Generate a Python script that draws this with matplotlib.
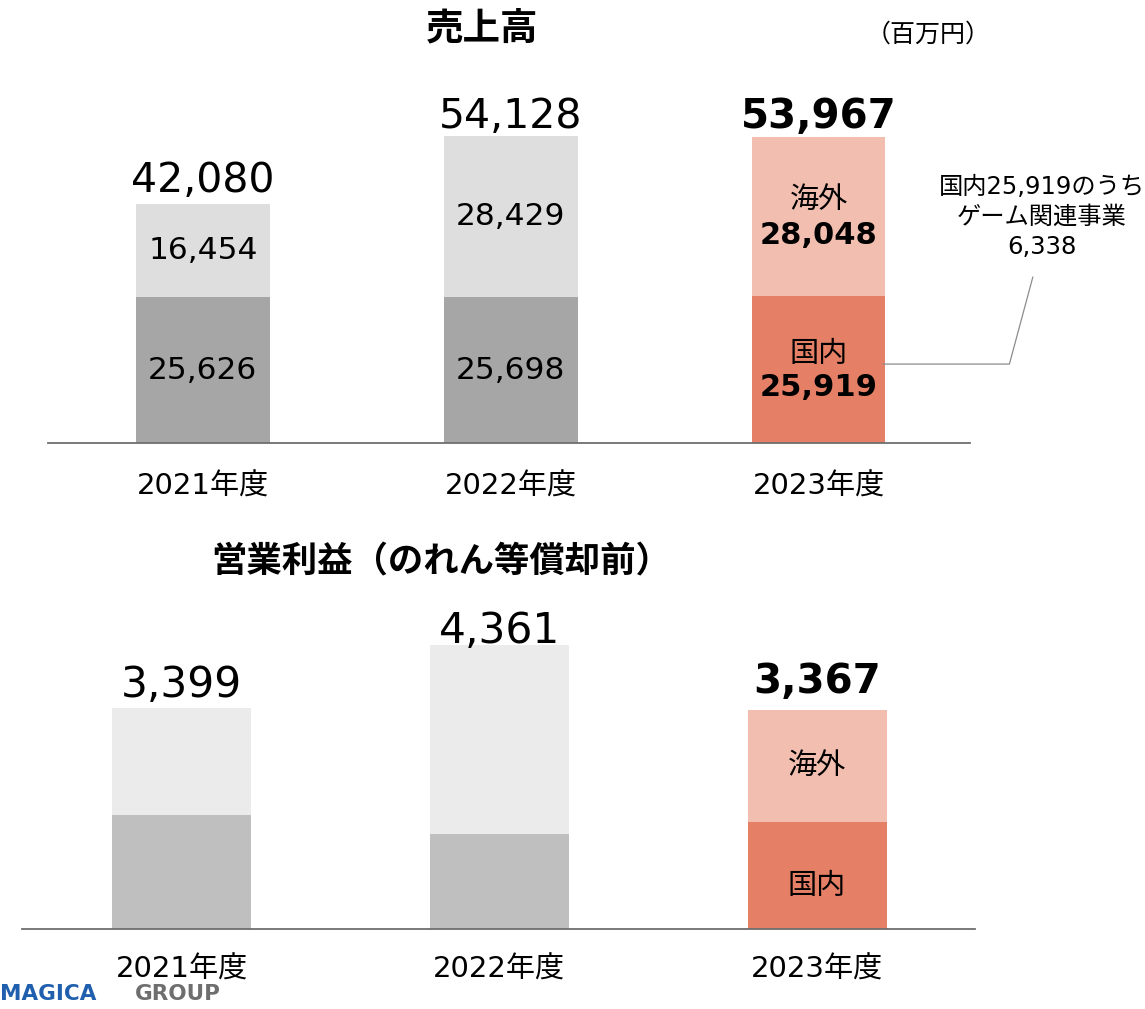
import matplotlib
matplotlib.use("Agg")
import matplotlib.pyplot as plt

plt.rcParams['font.family'] = ['DejaVu Sans', 'Noto Sans CJK JP']

# ---- data ----
years = ["2021年度", "2022年度", "2023年度"]
sales_domestic = [25626, 25698, 25919]
sales_overseas = [16454, 28429, 28048]
sales_total = [42080, 54128, 53967]
op_domestic = [1753, 1459, 1653]
op_total = [3399, 4361, 3367]
op_overseas = [t - d for t, d in zip(op_total, op_domestic)]
game_related = 6338

W, H = 1145, 1009
fig = plt.figure(figsize=(W / 100, H / 100), dpi=100)

def px_axes(left, right, bottom, top):
    return fig.add_axes([left / W, 1 - bottom / H, (right - left) / W, (bottom - top) / H])

dom_cols = ['#A6A6A6', '#A6A6A6', '#E58066']
ovs_cols = ['#DEDEDE', '#DEDEDE', '#F2BEB0']
op_dom_cols = ['#BFBFBF', '#BFBFBF', '#E58066']
op_ovs_cols = ['#EBEBEB', '#EBEBEB', '#F2BEB0']

def style_axis(ax, pad):
    for s in ['top', 'left', 'right']:
        ax.spines[s].set_visible(False)
    ax.spines['bottom'].set_color('#6E6E6E')
    ax.spines['bottom'].set_linewidth(1.3)
    ax.set_yticks([])
    ax.set_xticks(range(3))
    ax.set_xticklabels(years, fontsize=21)
    ax.tick_params(axis='x', length=0, pad=pad)

# ---- top: 売上高 ----
ax1 = px_axes(48, 970, 443, 100)
x = list(range(3))
ax1.bar(x, sales_domestic, width=0.435, color=dom_cols)
ax1.bar(x, sales_overseas, width=0.435, bottom=sales_domestic, color=ovs_cols)
ax1.set_xlim(-0.503, 2.492)
ax1.set_ylim(0, 60400)
style_axis(ax1, 21.5)

top_off = [12, 8, 9]
for i in range(3):
    bold = (i == 2)
    ax1.annotate(f"{sales_total[i]:,}", (i, sales_total[i]), xytext=(0, top_off[i] * 0.72),
                 textcoords='offset points', ha='center', va='baseline',
                 fontsize=29.5 if not bold else 29, fontweight='bold' if bold else 'normal')
    dmid = sales_domestic[i] / 2
    omid = sales_domestic[i] + sales_overseas[i] / 2
    if not bold:
        ax1.text(i, dmid, f"{sales_domestic[i]:,}", ha='center', va='center', fontsize=22.5)
        ax1.text(i, omid, f"{sales_overseas[i]:,}", ha='center', va='center', fontsize=22.5)
    else:
        ax1.annotate("海外", (i, omid), xytext=(0, 12), textcoords='offset points',
                     ha='center', va='center', fontsize=21, family='Noto Sans CJK JP')
        ax1.annotate(f"{sales_overseas[i]:,}", (i, omid), xytext=(0, -14), textcoords='offset points',
                     ha='center', va='center', fontsize=22, fontweight='bold')
        ax1.annotate("国内", (i, dmid), xytext=(0, 11), textcoords='offset points',
                     ha='center', va='center', fontsize=21, family='Noto Sans CJK JP')
        ax1.annotate(f"{sales_domestic[i]:,}", (i, dmid), xytext=(0, -13), textcoords='offset points',
                     ha='center', va='center', fontsize=22, fontweight='bold')

# leader line and note
ax1.plot([2.21, 2.62, 2.696], [13900, 13900, 29200], color='#8C8C8C', lw=0.9, clip_on=False)
ax1.text(2.725, 39800, f"国内{sales_domestic[2]:,}のうち\nゲーム関連事業\n{game_related:,}",
         ha='center', va='center', fontsize=17.5, linespacing=1.3)

fig.text(482 / W, 1 - 28 / H, "売上高", ha='center', va='center', fontsize=27,
         fontweight='bold', family='Noto Sans CJK JP')
fig.text(928 / W, 1 - 35 / H, "（百万円）", ha='center', va='center', fontsize=18,
         family='Noto Sans CJK JP')

# ---- bottom: 営業利益 ----
ax2 = px_axes(22, 975, 929, 600)
ax2.bar(x, op_domestic, width=0.437, color=op_dom_cols)
ax2.bar(x, op_overseas, width=0.437, bottom=op_domestic, color=op_ovs_cols)
ax2.set_xlim(-0.502, 2.497)
ax2.set_ylim(0, 5060)
style_axis(ax2, 19.5)

op_off = [11, 2, 17]
for i in range(3):
    bold = (i == 2)
    ax2.annotate(f"{op_total[i]:,}", (i, op_total[i]), xytext=(0, op_off[i] * 0.72),
                 textcoords='offset points', ha='center', va='baseline',
                 fontsize=30.5 if not bold else 29, fontweight='bold' if bold else 'normal')
ax2.annotate("海外", (2, op_domestic[2] + op_overseas[2] / 2), xytext=(0, 0),
             textcoords='offset points', ha='center', va='center', fontsize=21,
             family='Noto Sans CJK JP')
ax2.annotate("国内", (2, op_domestic[2] / 2), xytext=(0, -8),
             textcoords='offset points', ha='center', va='center', fontsize=21,
             family='Noto Sans CJK JP')

fig.text(441 / W, 1 - 562 / H, "営業利益（のれん等償却前）", ha='center', va='center',
         fontsize=25.5, fontweight='bold', family='Noto Sans CJK JP')

# logo
fig.text(0 / W, 1 - 994 / H, "MAGICA", ha='left', va='center', fontsize=15.5,
         fontweight='bold', color='#1F5FAE')
fig.text(135 / W, 1 - 994 / H, "GROUP", ha='left', va='center', fontsize=15.5,
         fontweight='bold', color='#6E6E6E')

fig.savefig("out.png", dpi=100, facecolor='white')
